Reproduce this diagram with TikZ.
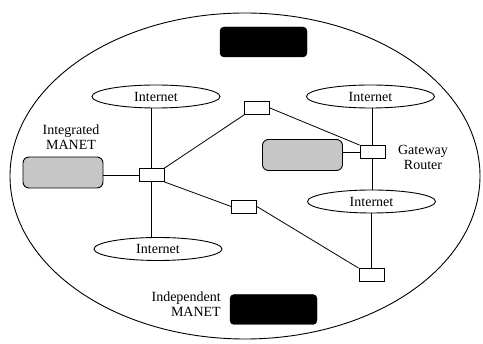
\documentclass[tikz,border=0pt]{standalone}
\usepackage{fontspec}
\setmainfont{Liberation Serif}
\usetikzlibrary{shapes.geometric}
\begin{document}
\begin{tikzpicture}[x=1pt,y=-1pt,
  every node/.style={font=\fontsize{14}{15}\selectfont},
  cloud/.style={ellipse,draw,line width=0.9pt,minimum width=128pt,minimum height=23pt,inner sep=0pt},
  rtr/.style={rectangle,draw,line width=0.8pt,minimum width=25pt,minimum height=13pt,inner sep=0pt},
  blk/.style={rectangle,rounded corners=4pt,fill=black,draw=black,minimum width=87pt,minimum height=30pt},
  grey/.style={rectangle,rounded corners=6pt,fill=gray!45,draw=black,line width=0.9pt,minimum width=80pt,minimum height=31pt},
  lbl/.style={align=center,inner sep=0pt},
  link/.style={line width=0.8pt}]
\useasboundingbox (0,0) rectangle (483,344);
\node[ellipse,draw,line width=0.9pt,minimum width=470pt,minimum height=326pt,inner sep=0pt] (world) at (245,176) {};
\node[blk] (bt) at (263.5,42) {};
\node[blk] (bb) at (273.5,309.5) {};
\node[cloud] (itl) at (156,96.5) {Internet};
\node[cloud] (itr) at (370.5,96.5) {Internet};
\node[cloud] (imr) at (371.5,201.5) {Internet};
\node[cloud] (ibl) at (158,249) {Internet};
\node[rtr] (hub) at (151.5,175) {};
\node[rtr] (tm) at (257,108) {};
\node[rtr] (gw) at (372.5,152) {};
\node[rtr] (ms) at (244,206.5) {};
\node[rtr] (br) at (371.5,275) {};
\node[grey] (lg) at (63,172.5) {};
\node[grey] (rg) at (302.5,155) {};
\node[lbl] (tint) at (71,137) {Integrated\\MANET};
\node[lbl] (tgw) at (423,157.5) {Gateway\\Router};
\node[lbl,align=right,anchor=east] (tind) at (221,304.5) {Independent\\MANET};
\draw[link] (hub.north) -- (hub.north |- itl.south);
\draw[link] (hub.south) -- (hub.south |- ibl.north);
\draw[link] (hub.west) -- (hub.west -| lg.east);
\draw[link] (hub.north east) -- (tm.south west);
\draw[link] (tm.east) -- (gw.north west);
\draw[link] (gw.west) -- (gw.west -| rg.east);
\draw[link] (gw.north) -- (gw.north |- itr.south);
\draw[link] (gw.south) -- (gw.south |- imr.north);
\draw[link] (hub.south east) -- (ms.west);
\draw[link] (ms.east) -- (br.north west);
\draw[link] (br.north |- imr.south) -- (br.north);
\end{tikzpicture}
\end{document}
